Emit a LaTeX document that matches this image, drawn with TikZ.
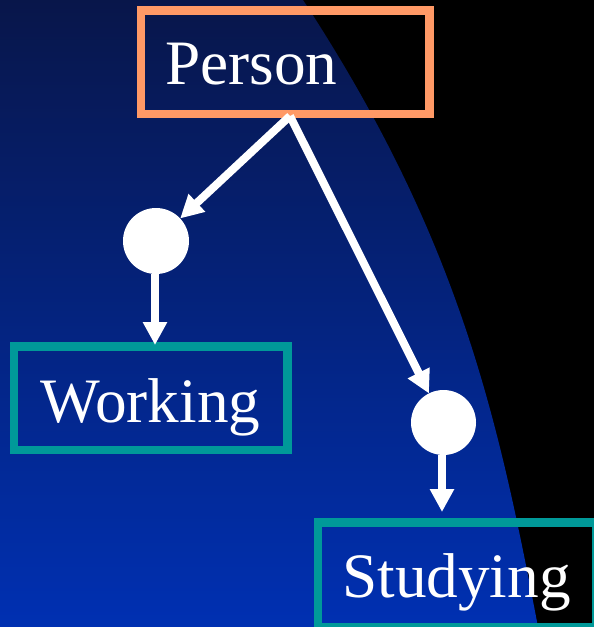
\documentclass[tikz,border=0pt]{standalone}
\usepackage{fontspec}
\setmainfont{Liberation Serif}
\usetikzlibrary{arrows.meta}
\definecolor{boxorange}{HTML}{FF9966}
\definecolor{boxteal}{HTML}{009999}
\definecolor{skytop}{HTML}{08164A}
\definecolor{skybottom}{HTML}{0030B2}
\begin{document}
\begin{tikzpicture}[x=1bp,y=-1bp,
  framebox/.style={draw=#1, line width=8.5bp, rectangle, inner sep=0pt},
  boxtext/.style={text=white, anchor=base, inner sep=0pt,
    font=\fontsize{63.5}{70}\selectfont},
  dot/.style={circle, fill=white, minimum size=66bp, inner sep=0pt, outer sep=0pt},
  link/.style={draw=white, line width=8bp,
    -{Triangle[width=23bp,length=23bp]}}]
  % page and backdrop
  \useasboundingbox (0,0) rectangle (594,627);
  \fill[black] (0,0) rectangle (594,627);
  \shade[top color=skytop, bottom color=skybottom]
    (0,0) -- (303,0) .. controls (460,240) and (498,418) .. (538,627)
    -- (0,627) -- cycle;

  % class boxes
  \node[framebox=boxorange, minimum width=288.5bp, minimum height=103.5bp]
    (person) at (285.25,62.25) {};
  \node[boxtext] (personlabel) at (251.5,85) {Person};

  \node[framebox=boxteal, minimum width=273.5bp, minimum height=103.5bp]
    (working) at (150.75,398.25) {};
  \node[boxtext] (workinglabel) at (150.5,422) {Working};

  \node[framebox=boxteal, minimum width=278bp, minimum height=105bp]
    (studying) at (457,575) {};
  \node[boxtext] (studyinglabel) at (456.5,597) {Studying};

  % branch points
  \node[dot] (c1) at (156,241) {};
  \node[dot, minimum size=65bp] (c2) at (443.5,422.5) {};
  \coordinate (fork) at (290,116);

  % connectors
  \draw[link] (fork) -- (c1);
  \draw[link] (fork) -- (c2);
  \draw[link] (c1.south -| 155,0) -- (155,345);
  \draw[link] (c2.south -| 442,0) -- (442,512);
\end{tikzpicture}
\end{document}
